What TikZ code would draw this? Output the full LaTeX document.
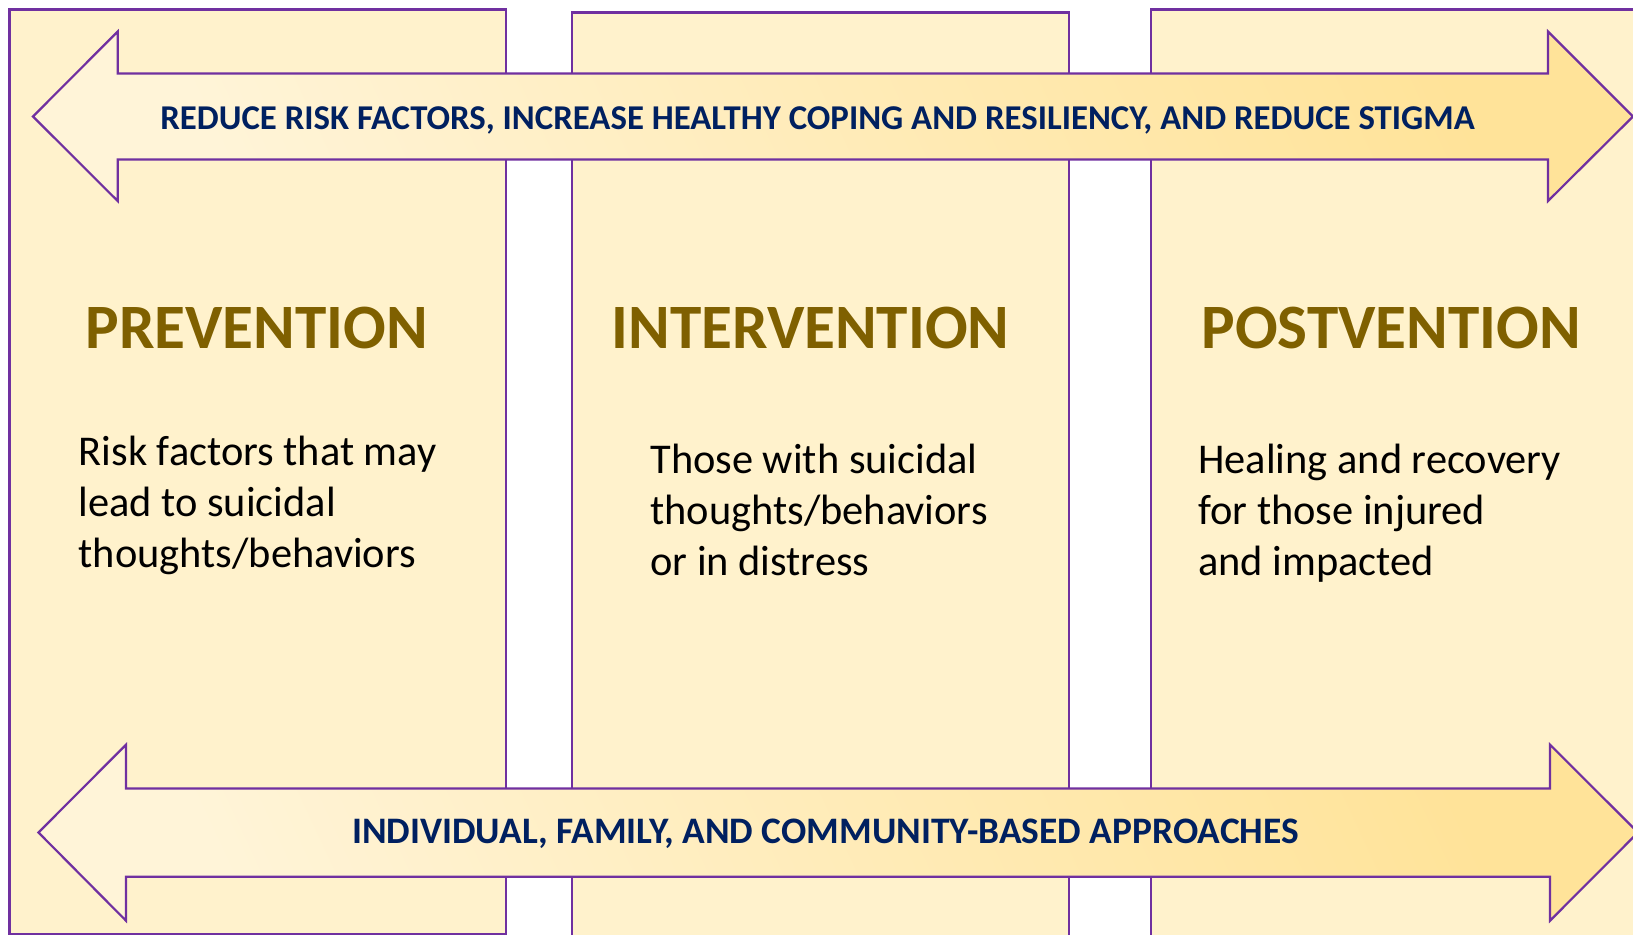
\documentclass[tikz,border=0pt]{standalone}
\usepackage{fontspec}
\setmainfont{Carlito}
\definecolor{boxfill}{HTML}{FFF2CC}
\definecolor{edge}{HTML}{7030A0}
\definecolor{arrowlight}{HTML}{FFF4D8}
\definecolor{arrowdark}{HTML}{FFE399}
\definecolor{headcol}{HTML}{7F6000}
\definecolor{bandtext}{HTML}{002060}
\tikzset{
  column/.style={draw=edge, line width=1.1pt, fill=boxfill},
  band/.style={draw=edge, line width=1.1pt, line join=miter, shading=axis,
    left color=arrowlight, right color=arrowdark, shading angle=115},
  bandlabel/.style={inner sep=0pt, anchor=base, text=bandtext},
  heading/.style={inner sep=0pt, anchor=base, text=headcol,
    font=\fontsize{31.6}{36}\selectfont\bfseries},
  bodytext/.style={inner sep=0pt, anchor=base west, align=left,
    font=\fontsize{21.2}{25.4}\selectfont},
}
\begin{document}
\begin{tikzpicture}[x=0.5pt, y=-0.5pt]
  \useasboundingbox (0,0) rectangle (1633,935);
  \clip (0,0) rectangle (1633,935);

  % three stage columns
  \draw[column] (9.5,9.5) rectangle (506,934);
  \draw[column] (572,12.5) rectangle (1069,940);
  \draw[column] (1151,9.5) rectangle (1650,940);

  % upper double arrow
  \draw[band] (33,116.5) -- (117.7,31.5) -- (117.7,73.5) -- (1548,73.5)
    -- (1548,31.5) -- (1633,116.5) -- (1548,201) -- (1548,159.5)
    -- (117.7,159.5) -- (117.7,201) -- cycle;
  % lower double arrow
  \draw[band] (38.5,832.5) -- (126,744.7) -- (126,788.4) -- (1550,788.4)
    -- (1550,744.7) -- (1638,832.5) -- (1550,920.7) -- (1550,876.7)
    -- (126,876.7) -- (126,920.7) -- cycle;

  \node[bandlabel, font=\fontsize{17.4}{20}\selectfont\bfseries] (topband) at (817.5,129.5)
    {REDUCE RISK FACTORS, INCREASE HEALTHY COPING AND RESILIENCY, AND REDUCE STIGMA};
  \node[bandlabel, font=\fontsize{18.7}{22}\selectfont\bfseries] (lowband) at (825.5,843)
    {INDIVIDUAL, FAMILY, AND COMMUNITY-BASED APPROACHES};

  \node[heading] (prev) at (256.7,348.3) {PREVENTION};
  \node[heading] (inter) at (810.5,348.3) {INTERVENTION};
  \node[heading] (post) at (1391,348.3) {POSTVENTION};

  % the base anchor of a multi-line node sits on its last line
  \node[bodytext] (prevtext) at (78.3,567)
    {Risk factors that may\\lead to suicidal\\thoughts/behaviors};
  \node[bodytext] (intertext) at (650,575)
    {Those with suicidal\\thoughts/behaviors\\or in distress};
  \node[bodytext] (posttext) at (1198,575)
    {Healing and recovery\\for those injured\\and impacted};
\end{tikzpicture}
\end{document}
